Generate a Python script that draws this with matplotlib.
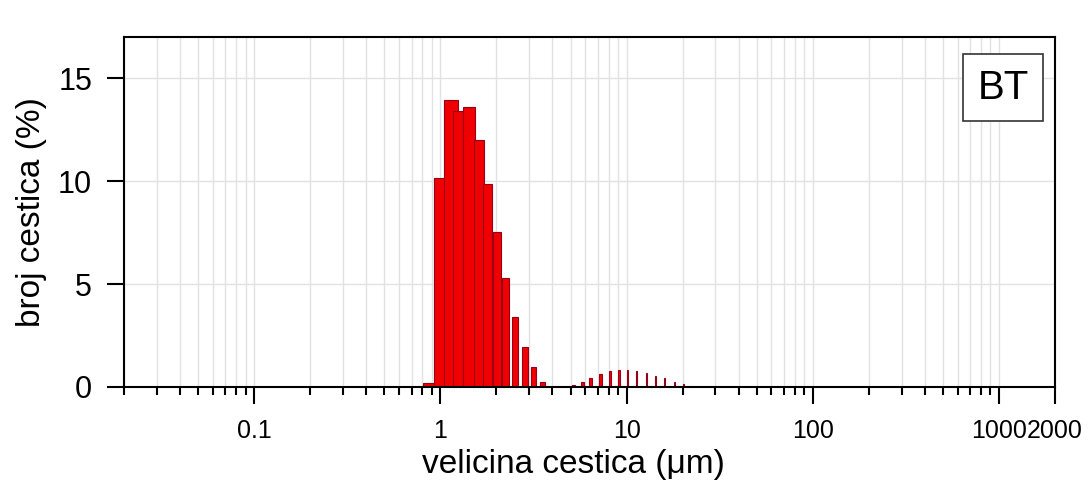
import matplotlib
matplotlib.use('Agg')
import matplotlib.pyplot as plt
from matplotlib.ticker import FixedLocator, NullFormatter

# === DATA ===
# left edge of each bar (particle size, um) and share of particles (%)
size_um = [0.81, 0.92, 1.04, 1.17, 1.33, 1.51, 1.70, 1.92, 2.15, 2.42, 2.74,
           3.06, 3.44, 5.08, 5.70, 6.32, 7.15, 8.06, 9.04, 10.03, 11.24,
           12.67, 14.22, 15.95, 17.98, 20.16, 22.45]
count_pct = [0.2, 10.15, 13.93, 13.4, 13.6, 12.0, 9.84, 7.54, 5.31, 3.41, 1.93,
             0.96, 0.26, 0.1, 0.26, 0.42, 0.62, 0.78, 0.83, 0.83, 0.78,
             0.66, 0.55, 0.42, 0.26, 0.13, 0.05]

major_ticks = [0.1, 1, 10, 100, 1000, 2000]
major_labels = ['0.1', '1', '10', '100', '1000', '2000']
y_ticks = [0, 5, 10, 15]
sample_name = 'BT'

# === Plot ===
plt.rcParams['font.family'] = ['Liberation Sans', 'DejaVu Sans']

fig = plt.figure(figsize=(10.88, 4.94), dpi=100)
ax = fig.add_axes([0.114, 0.2166, 0.8557, 0.7084])

ax.set_xscale('log')
ax.bar(size_um, count_pct, width=0.2, align='edge',
       color='#f00000', edgecolor='#960018', linewidth=0.8, zorder=3)

ax.set_xlim(0.02, 2000)
ax.set_ylim(0, 17)

# minor ticks at 2..9 of every decade
minors = [m * 10.0 ** e for e in range(-2, 3) for m in range(2, 10)]
minors = [v for v in minors if 0.02 <= v < 1000 and v not in major_ticks]
ax.xaxis.set_major_locator(FixedLocator(major_ticks))
ax.set_xticklabels(major_labels)
ax.xaxis.set_minor_locator(FixedLocator(minors))
ax.xaxis.set_minor_formatter(NullFormatter())
ax.set_yticks(y_ticks)

for v in minors + major_ticks[:-1]:
    ax.axvline(v, color='#e2e2e2', lw=1.0, zorder=0)
for v in y_ticks[1:]:
    ax.axhline(v, color='#e2e2e2', lw=1.0, zorder=0)

for s in ax.spines.values():
    s.set_linewidth(1.5)
    s.set_zorder(4)

ax.tick_params(axis='x', which='major', direction='out', length=12, width=1.5,
               pad=11, labelsize=18)
ax.tick_params(axis='x', which='minor', direction='out', length=6, width=1.5)
ax.tick_params(axis='y', direction='out', length=12, width=1.5, pad=11,
               labelsize=22)

ax.set_xlabel('velicina cestica (μm)', fontsize=24)
ax.set_ylabel('broj cestica (%)', fontsize=24)
ax.xaxis.set_label_coords(0.483, -0.178)
ax.yaxis.set_label_coords(-0.083, 0.5)

ax.text(0.9445, 0.855, sample_name, transform=ax.transAxes, fontsize=29,
        ha='center', va='center', zorder=5,
        bbox=dict(boxstyle='square,pad=0.36', facecolor='white',
                  edgecolor='#333333', linewidth=1.2))

fig.savefig('out.png', dpi=100)
